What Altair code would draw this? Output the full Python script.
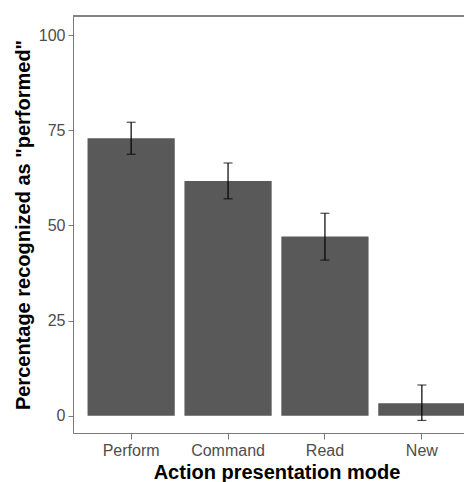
import altair as alt
import pandas as pd

modes = ["Perform", "Command", "Read", "New"]
means = [72.9, 61.7, 47.1, 3.3]
lower = [68.7, 57.0, 40.9, -1.2]
upper = [77.1, 66.4, 53.2, 8.1]

df = pd.DataFrame({"mode": modes, "mean": means, "lo": lower, "hi": upper})

FONT = "Liberation Sans"
BORDER = "#7a7a7a"

xscale = alt.Scale(domain=modes, range=[0, 407], paddingInner=0.1, paddingOuter=0.15)
yscale = alt.Scale(domain=[-4.5, 105], nice=False, zero=False)

x = alt.X("mode:N", scale=xscale, sort=modes,
          axis=alt.Axis(title="Action presentation mode", labelAngle=0, tickSize=6,
                        labelPadding=3, labelFontSize=16, labelColor="#4d4d4d",
                        titleFontSize=20, titleFontWeight="bold", titleColor="black",
                        titlePadding=4, labelFont=FONT, titleFont=FONT))
y = alt.Y("mean:Q", scale=yscale,
          axis=alt.Axis(title='Percentage recognized as "performed"', values=[0, 25, 50, 75, 100],
                        tickSize=5, labelPadding=3, labelFontSize=16, labelColor="#4d4d4d",
                        titleFontSize=20, titleFontWeight="bold", titleColor="black",
                        titlePadding=5, grid=False, labelFont=FONT, titleFont=FONT))

base = alt.Chart(df)
bars = base.mark_bar(color="#595959").encode(x=x, y=y)
rules = base.mark_rule(color="black", strokeWidth=1.2).encode(
    x=alt.X("mode:N", scale=xscale, sort=modes), y=alt.Y("lo:Q", scale=yscale), y2="hi:Q")
cap_lo = base.mark_tick(color="black", size=9, thickness=1.2).encode(
    x=alt.X("mode:N", scale=xscale, sort=modes), y=alt.Y("lo:Q", scale=yscale))
cap_hi = base.mark_tick(color="black", size=9, thickness=1.2).encode(
    x=alt.X("mode:N", scale=xscale, sort=modes), y=alt.Y("hi:Q", scale=yscale))
top = alt.Chart(df).mark_rule(color=BORDER, strokeWidth=1).encode(
    x=alt.value(0), x2=alt.value(407), y=alt.value(0))

chart = alt.layer(bars, rules, cap_lo, cap_hi, top).properties(
    width=391, height=417,
    autosize=alt.AutoSizeParams(type="none"),
    padding={"left": 65, "top": 8, "right": 0, "bottom": 49},
).configure_view(stroke=None).configure_axis(
    domainColor=BORDER, tickColor=BORDER, grid=False, domainWidth=1, tickWidth=1
)

chart.save("out.html", embed_options={"renderer": "svg", "actions": False})
